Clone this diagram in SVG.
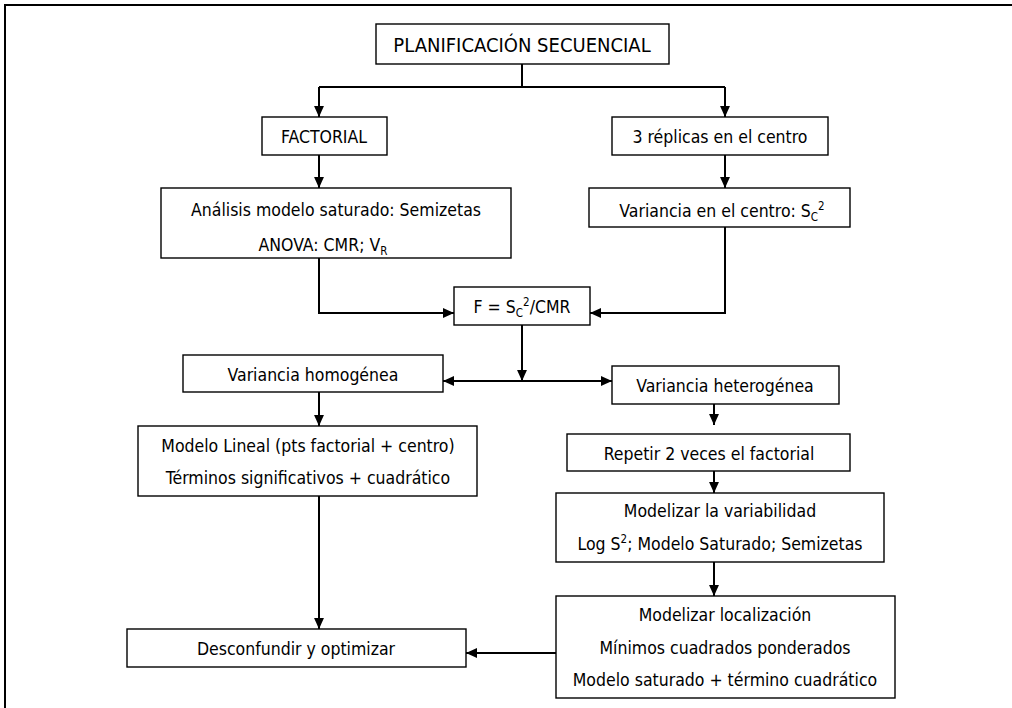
<svg xmlns="http://www.w3.org/2000/svg" width="1012" height="708" viewBox="0 0 1012 708">
<defs>
<style>
.box{fill:#fff;stroke:#000;stroke-width:1.4}
.t{font-family:"DejaVu Sans Condensed","DejaVu Sans",sans-serif;font-size:17.5px;fill:#000;text-anchor:middle}
.big{font-size:20px}
.s{font-size:11.5px}
.c{fill:none;stroke:#000;stroke-width:2}
</style>
<marker id="ah" viewBox="0 0 10 10" refX="10" refY="5" markerWidth="11" markerHeight="11" markerUnits="userSpaceOnUse" orient="auto-start-reverse">
<path d="M0,0.5 L10,5 L0,9.5 Z" fill="#000"/>
</marker>
</defs>
<rect x="0" y="0" width="1012" height="708" fill="#fff"/>
<rect x="5" y="5" width="1030" height="730" fill="none" stroke="#000" stroke-width="2"/>
<g id="connectors">
<path class="c" d="M522,64 V87"/>
<path class="c" d="M319,87 H725"/>
<path class="c" d="M319,87 V117" marker-end="url(#ah)"/>
<path class="c" d="M725,87 V117" marker-end="url(#ah)"/>
<path class="c" d="M319,155 V188" marker-end="url(#ah)"/>
<path class="c" d="M725,155 V188" marker-end="url(#ah)"/>
<path class="c" d="M319,258 V313 H454" marker-end="url(#ah)"/>
<path class="c" d="M725,227 V313 H590" marker-end="url(#ah)"/>
<path class="c" d="M522,325 V381" marker-end="url(#ah)"/>
<path class="c" d="M443,381 H612" marker-start="url(#ah)" marker-end="url(#ah)"/>
<path class="c" d="M319,392 V426" marker-end="url(#ah)"/>
<path class="c" d="M714,404 V425" marker-end="url(#ah)"/>
<path class="c" d="M714,471 V493" marker-end="url(#ah)"/>
<path class="c" d="M714,562 V596" marker-end="url(#ah)"/>
<path class="c" d="M556,653 H466" marker-end="url(#ah)"/>
<path class="c" d="M319,496 V629" marker-end="url(#ah)"/>
</g>
<g id="n-title">
<rect class="box" x="376" y="24" width="293" height="40"/>
<text class="t big" x="522" y="52">PLANIFICACIÓN SECUENCIAL</text>
</g>
<g id="n-factorial">
<rect class="box" x="262" y="117" width="125" height="38"/>
<text class="t" x="324" y="143">FACTORIAL</text>
</g>
<g id="n-replicas">
<rect class="box" x="612" y="117" width="216" height="38"/>
<text class="t" x="720" y="143">3 réplicas en el centro</text>
</g>
<g id="n-analisis">
<rect class="box" x="161" y="188" width="350" height="70"/>
<text class="t" x="336" y="216">Análisis modelo saturado: Semizetas</text>
<text class="t" x="323" y="251">ANOVA: CMR; V<tspan class="s" dy="4">R</tspan></text>
</g>
<g id="n-varcentro">
<rect class="box" x="589" y="188" width="261" height="39"/>
<text class="t" x="722" y="217">Variancia en el centro: S<tspan class="s" dy="4">C</tspan><tspan class="s" dy="-11">2</tspan></text>
</g>
<g id="n-f">
<rect class="box" x="454" y="287" width="136" height="38"/>
<text class="t" x="522" y="313">F = S<tspan class="s" dy="4">C</tspan><tspan class="s" dy="-11">2</tspan><tspan dy="7">/CMR</tspan></text>
</g>
<g id="n-homogenea">
<rect class="box" x="183" y="355" width="260" height="37"/>
<text class="t" x="313" y="381">Variancia homogénea</text>
</g>
<g id="n-heterogenea">
<rect class="box" x="612" y="366" width="227" height="38"/>
<text class="t" x="725" y="392">Variancia heterogénea</text>
</g>
<g id="n-lineal">
<rect class="box" x="138" y="426" width="339" height="70"/>
<text class="t" x="308" y="452">Modelo Lineal (pts factorial + centro)</text>
<text class="t" x="308" y="484">Términos significativos + cuadrático</text>
</g>
<g id="n-repetir">
<rect class="box" x="567" y="434" width="283" height="37"/>
<text class="t" x="709" y="460">Repetir 2 veces el factorial</text>
</g>
<g id="n-variabilidad">
<rect class="box" x="556" y="493" width="328" height="69"/>
<text class="t" x="720" y="517">Modelizar la variabilidad</text>
<text class="t" x="720" y="550">Log S<tspan class="s" dy="-7">2</tspan><tspan dy="7">; Modelo Saturado; Semizetas</tspan></text>
</g>
<g id="n-localizacion">
<rect class="box" x="556" y="596" width="339" height="102"/>
<text class="t" x="725" y="621">Modelizar localización</text>
<text class="t" x="725" y="654">Mínimos cuadrados ponderados</text>
<text class="t" x="725" y="686">Modelo saturado + término cuadrático</text>
</g>
<g id="n-desconfundir">
<rect class="box" x="127" y="629" width="339" height="38"/>
<text class="t" x="296" y="655">Desconfundir y optimizar</text>
</g>
</svg>
